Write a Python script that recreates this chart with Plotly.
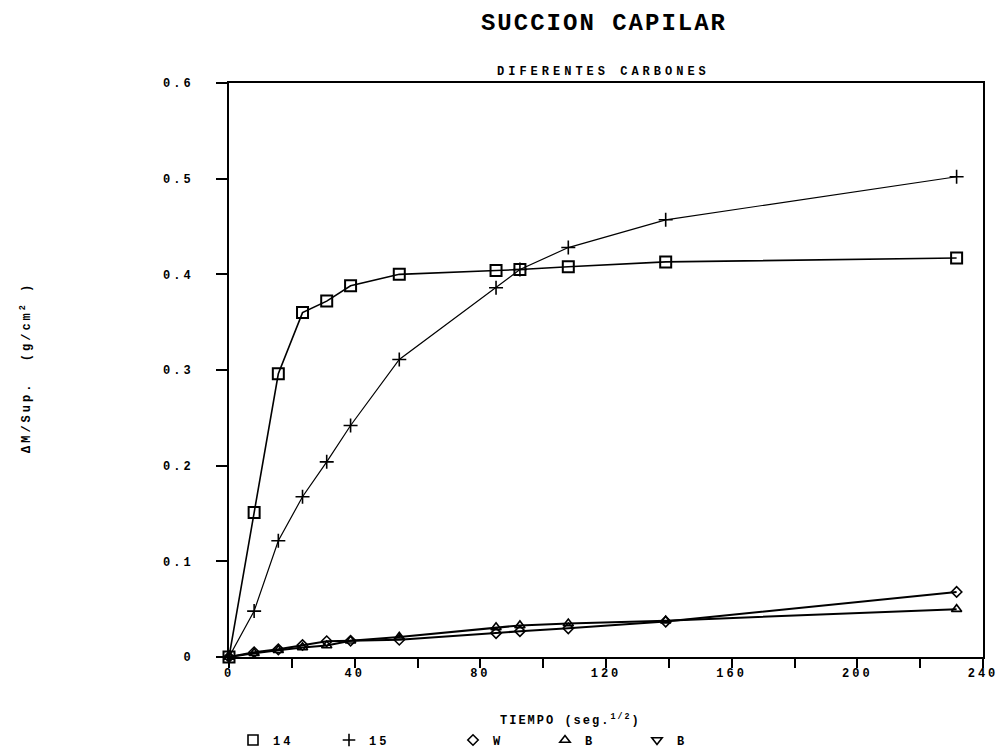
import plotly.graph_objects as go

# ---- data ----
tiempo = [0, 8.0, 15.7, 23.4, 31.1, 38.7, 54.2, 85.0, 92.6, 108.0, 139.0, 231.6]
c14 = [0, 0.151, 0.296, 0.360, 0.372, 0.388, 0.400, 0.404, 0.405, 0.408, 0.413, 0.417]
c15 = [0, 0.048, 0.1215, 0.1675, 0.204, 0.242, 0.311, 0.386, 0.405, 0.428, 0.457, 0.502]
cW = [0, 0.005, 0.008, 0.0125, 0.0165, 0.017, 0.018, 0.025, 0.027, 0.030, 0.037, 0.068]
cB = [0, 0.004, 0.007, 0.010, 0.012, 0.017, 0.021, 0.031, 0.033, 0.035, 0.038, 0.050]

x_tickvals = [0, 40, 80, 120, 160, 200, 240]
x_ticktext = ["0", "40", "80", "120", "160", "200", "240"]
y_tickvals = [0, 0.1, 0.2, 0.3, 0.4, 0.5, 0.6]
y_ticktext = ["0", "0.1", "0.2", "0.3", "0.4", "0.5", "0.6"]

series = [
    ("14", c14, "square-open", 11, 2.0, 1.6),
    ("15", c15, "cross-thin-open", 10, 1.6, 1.2),
    ("W", cW, "diamond-open", 8, 1.6, 2.0),
    ("B", cB, "triangle-up-open", 9, 1.6, 2.0),
]

legend_items = [
    ("14", "square-open", 10),
    ("15", "cross-thin-open", 9),
    ("W", "diamond-open", 8),
    ("B", "triangle-up-open", 9),
    ("B", "triangle-down-open", 9),
]

MONO = "Liberation Mono"
PL, PR, PT, PB = 229, 19, 83, 94
W_, H_ = 1002, 751
PW = W_ - PL - PR
PH = H_ - PT - PB


def sp(t, px=2):
    return '<span style="letter-spacing:%dpx">%s</span>' % (px, t)


def px_x(px):
    return (px - PL) / PW


def px_y(py):
    return (H_ - PB - py) / PH


fig = go.Figure()
for name, ys, sym, size, mlw, lw in series:
    fig.add_trace(go.Scatter(
        x=tiempo, y=ys, mode="lines+markers", showlegend=False,
        line=dict(color="black", width=lw),
        marker=dict(symbol=sym, size=size, color="black",
                    line=dict(color="black", width=mlw)),
        cliponaxis=False,
    ))

legend_marker_px = [253, 349, 473, 565, 657]
legend_layouts = {}
for i, ((name, sym, size), mpx) in enumerate(zip(legend_items, legend_marker_px)):
    key = "legend" if i == 0 else "legend%d" % (i + 1)
    fig.add_trace(go.Scatter(
        x=[None], y=[None], mode="markers", name=sp(name, 3), legend=key,
        marker=dict(symbol=sym, size=size, color="black",
                    line=dict(color="black", width=1.6)),
    ))
    legend_layouts[key] = dict(
        orientation="h", x=px_x(mpx - 20), xanchor="left", y=px_y(740),
        yanchor="middle", font=dict(family=MONO, size=12, weight="bold"),
        bgcolor="rgba(0,0,0,0)", itemclick=False, itemdoubleclick=False,
    )

fig.update_layout(
    width=W_, height=H_,
    margin=dict(l=PL, r=PR, t=PT, b=PB, autoexpand=False),
    paper_bgcolor="white", plot_bgcolor="white",
    font=dict(family=MONO, color="black", size=11, weight="bold"),
    title=dict(text=sp("SUCCION CAPILAR", 2), x=604 / W_, xanchor="center",
               y=1 - 22 / H_, yanchor="middle", yref="container",
               font=dict(family=MONO, size=24, weight="bold", color="black")),
    showlegend=True,
    annotations=[
        dict(text=sp("DIFERENTES CARBONES", 4), xref="paper", yref="paper",
             x=px_x(603), y=px_y(72), xanchor="center", yanchor="middle",
             showarrow=False, font=dict(family=MONO, size=12, weight="bold")),
        dict(text=sp("TIEMPO (seg.<sup>1/2</sup>)", 2), xref="paper", yref="paper",
             x=px_x(570), y=px_y(720), xanchor="center", yanchor="middle",
             showarrow=False, font=dict(family=MONO, size=12, weight="bold")),
        dict(text=sp("ΔM/Sup.  (g/cm<sup>2</sup> )", 3), xref="paper", yref="paper",
             x=px_x(26), y=px_y(368), xanchor="center", yanchor="middle",
             textangle=-90, showarrow=False,
             font=dict(family=MONO, size=12, weight="bold")),
    ],
    **legend_layouts,
)

fig.update_xaxes(
    range=[0, 240], tickvals=x_tickvals, ticktext=[sp(t, 3) for t in x_ticktext],
    ticks="outside", ticklen=9, tickwidth=1.5, tickcolor="black",
    showline=True, linecolor="black", linewidth=2, mirror=True,
    showgrid=False, zeroline=False, automargin=False, ticklabelstandoff=-5,
    minor=dict(dtick=20, ticks="outside", ticklen=9, tickwidth=1.5, tickcolor="black", showgrid=False),
    tickfont=dict(family=MONO, size=12, weight="bold"),
)
fig.update_yaxes(
    range=[0, 0.6], tickvals=y_tickvals, ticktext=[sp(t, 3) for t in y_ticktext],
    ticks="outside", ticklen=11, tickwidth=1.5, tickcolor="black",
    showline=True, linecolor="black", linewidth=2, mirror=True,
    showgrid=False, zeroline=False, ticklabelstandoff=20, automargin=False,
    tickfont=dict(family=MONO, size=12, weight="bold"),
)

fig.write_html("out.html")
